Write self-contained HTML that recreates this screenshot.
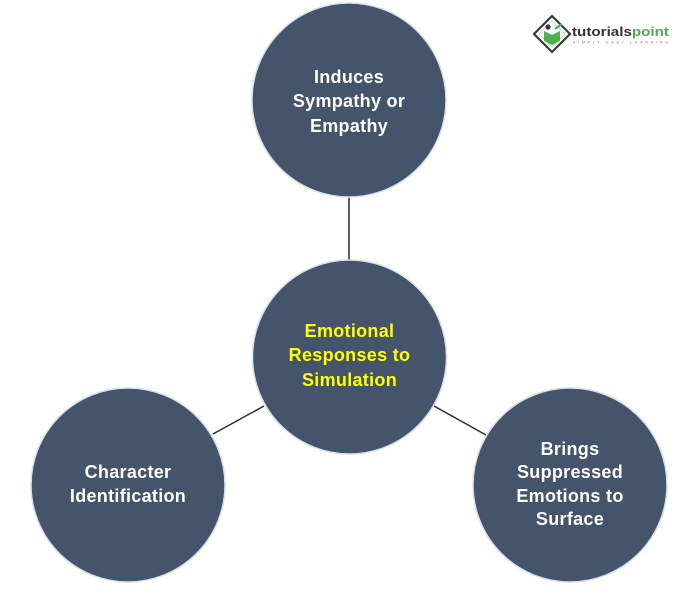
<!DOCTYPE html>
<html>
<head>
<meta charset="utf-8">
<style>
  html,body{margin:0;padding:0;background:#fff;}
  body{width:699px;height:600px;overflow:hidden;}
  svg{display:block;}
  .t{font-family:"Liberation Sans",Arial,sans-serif;font-weight:bold;font-size:18px;letter-spacing:0.3px;fill:#fff;text-anchor:middle;}
  .y{fill:#ffff00;}
  .logo{font-family:"Liberation Sans",Arial,sans-serif;}
</style>
</head>
<body>
<svg width="699" height="600" viewBox="0 0 699 600" xmlns="http://www.w3.org/2000/svg">
  <rect width="699" height="600" fill="#fff"/>
  <!-- connectors -->
  <line x1="349" y1="196" x2="349" y2="261" stroke="#2b2b2b" stroke-width="1.5"/>
  <line x1="213" y1="434" x2="264" y2="406" stroke="#2b2b2b" stroke-width="1.5"/>
  <line x1="434" y1="406" x2="486" y2="435" stroke="#2b2b2b" stroke-width="1.5"/>

  <!-- circles -->
  <circle cx="349" cy="100" r="97" fill="#44546a" stroke="#d9dfe8" stroke-width="1.5"/>
  <circle cx="349.5" cy="357" r="97" fill="#44546a" stroke="#d9dfe8" stroke-width="1.5"/>
  <circle cx="128" cy="485" r="97" fill="#44546a" stroke="#d9dfe8" stroke-width="1.5"/>
  <circle cx="570" cy="485" r="97" fill="#44546a" stroke="#d9dfe8" stroke-width="1.5"/>

  <!-- texts -->
  <text class="t" x="349" y="83">Induces</text>
  <text class="t" x="349" y="107">Sympathy or</text>
  <text class="t" x="349" y="132">Empathy</text>

  <text class="t y" x="349.5" y="337">Emotional</text>
  <text class="t y" x="349.5" y="361">Responses to</text>
  <text class="t y" x="349.5" y="386">Simulation</text>

  <text class="t" x="128" y="478">Character</text>
  <text class="t" x="128" y="502">Identification</text>

  <text class="t" x="570" y="455">Brings</text>
  <text class="t" x="570" y="478">Suppressed</text>
  <text class="t" x="570" y="502">Emotions to</text>
  <text class="t" x="570" y="525">Surface</text>

  <!-- logo -->
  <g>
    <polygon points="552,16 570,34 552,52 534,34" fill="#fff" stroke="#3a3a3a" stroke-width="2.2"/>
    <polygon points="552,21 565,34 552,47 539,34" fill="#fff" stroke="#bbb" stroke-width="0.6"/>
    <path d="M544,31 L552,35 L560,31 L560,41 L552,45 L544,41 Z" fill="#4caf50"/>
    <circle cx="548" cy="27" r="2.6" fill="#333"/>
    <path d="M555,29 L562,24" stroke="#4caf50" stroke-width="2"/>
    <text class="logo" x="572" y="36" font-weight="bold" font-size="13" fill="#333" textLength="97" lengthAdjust="spacingAndGlyphs">tutorials<tspan fill="#4caf50">point</tspan></text>
    <text class="logo" x="573" y="43.5" font-size="3.6" fill="#777" textLength="95" lengthAdjust="spacing">SIMPLY EASY LEARNING</text>
  </g>
</svg>
</body>
</html>
